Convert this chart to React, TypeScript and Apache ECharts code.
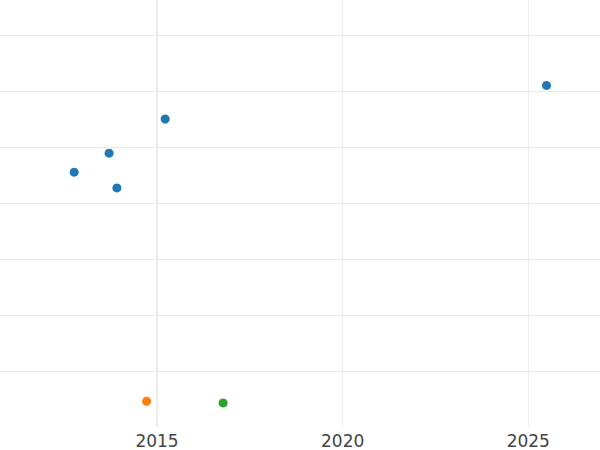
import React, { useEffect, useRef } from "react";
import * as echarts from "echarts";

const xTickYears = [2015, 2020, 2025];
const blueX = [2012.77, 2013.71, 2013.92, 2015.22, 2025.49];
const blueY = [4.55, 4.89, 4.27, 5.5, 6.1];
const orangeX = [2014.72];
const orangeY = [0.46];
const greenX = [2016.78];
const greenY = [0.43];

const zip = (xs: number[], ys: number[]) => xs.map((x, i) => [x, ys[i]]);

export default function App() {
  const ref = useRef<HTMLDivElement>(null);
  useEffect(() => {
    if (!ref.current) return;
    const chart = echarts.init(ref.current, undefined, { renderer: "svg" });
    const mk = (name: string, data: number[][], color: string, extra: any = {}) => ({
      name,
      type: "scatter",
      data,
      symbolSize: 9,
      itemStyle: { color, opacity: 1 },
      ...extra,
    });
    chart.setOption({
      animation: false,
      backgroundColor: "#ffffff",
      grid: {
        left: -28.65,
        right: -113.95,
        top: -21,
        bottom: 23,
        containLabel: false,
        outerBoundsMode: "none",
      },
      xAxis: {
        type: "value",
        min: 2010,
        max: 2030,
        interval: 5,
        axisLine: { show: false },
        axisTick: { show: false },
        splitLine: { show: true, lineStyle: { color: "#ebebeb", width: 1 } },
        axisLabel: {
          show: true,
          fontFamily: "DejaVu Sans",
          fontSize: 17,
          color: "#444444",
          margin: 5,
          formatter: (v: number) => (xTickYears.includes(v) ? String(v) : ""),
        },
      },
      yAxis: {
        type: "value",
        min: 0,
        max: 8,
        interval: 1,
        axisLine: { show: false },
        axisTick: { show: false },
        axisLabel: { show: false },
        splitLine: {
          show: true,
          showMinLine: false,
          lineStyle: { color: "#ebebeb", width: 1 },
        },
      },
      series: [
        mk("a", zip(blueX, blueY), "#1f77b4", {
          markLine: {
            silent: true,
            symbol: "none",
            label: { show: false },
            lineStyle: { color: "#ebebeb", width: 2, type: "solid" },
            data: [{ xAxis: 2015 }],
            z: 0,
          },
          z: 3,
        }),
        mk("b", zip(orangeX, orangeY), "#ff7f0e", { z: 3 }),
        mk("c", zip(greenX, greenY), "#2ca02c", { z: 3 }),
      ],
    });
    return () => chart.dispose();
  }, []);
  return <div ref={ref} style={{ width: 600, height: 450, position: "absolute", left: 0, top: 0 }} />;
}
